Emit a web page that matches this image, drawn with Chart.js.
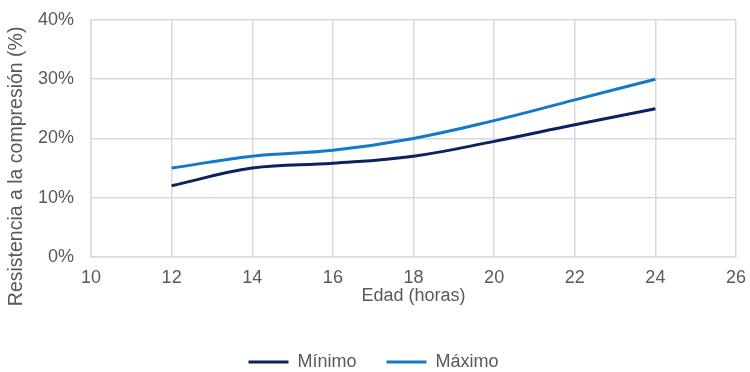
<!DOCTYPE html>
<html lang="es">
<head>
<meta charset="utf-8">
<title>Resistencia a la compresión según la edad</title>
<script src="https://cdn.jsdelivr.net/npm/chart.js@4/dist/chart.umd.min.js"></script>
<style>
  html, body { margin: 0; padding: 0; background: #ffffff; }
  #wrap { width: 750px; height: 372px; position: relative; }
</style>
</head>
<body>
<div id="wrap"><canvas id="chart"></canvas></div>
<script>
// Edad del hormigón (horas)
const edadHoras = [12, 14, 16, 18, 20, 22, 24];
// Resistencia a la compresión (%) - curva mínima y máxima
const minimo = [12, 15, 15.8, 17, 19.5, 22.3, 25];
const maximo = [15, 17, 18, 20, 23, 26.5, 30];
// Marcas de los ejes
const xTicks = [10, 12, 14, 16, 18, 20, 22, 24, 26];
const yTicks = [0, 10, 20, 30, 40];
const yTitle = 'Resistencia a la compresión (%)';

const textColor = '#595959';
const gridColor = '#d9d9d9';
const fontFamily = '"Liberation Sans", Arial, sans-serif';

const toPoints = (xs, ys) => xs.map((x, i) => ({ x: x, y: ys[i] }));

// Vertical axis title, drawn at the left edge and a little below the plot centre
const yTitlePlugin = {
  id: 'yTitle',
  afterDraw(chart) {
    const ctx = chart.ctx;
    const area = chart.chartArea;
    ctx.save();
    ctx.translate(17, (area.top + area.bottom) / 2 + 28);
    ctx.rotate(-Math.PI / 2);
    ctx.font = '19.5px ' + fontFamily;
    ctx.fillStyle = textColor;
    ctx.textAlign = 'center';
    ctx.textBaseline = 'middle';
    ctx.fillText(yTitle, 0, 0);
    ctx.restore();
  }
};

new Chart(document.getElementById('chart'), {
  type: 'line',
  data: {
    datasets: [
      {
        label: 'Mínimo',
        data: toPoints(edadHoras, minimo),
        borderColor: '#0b2160',
        backgroundColor: '#0b2160',
        borderWidth: 3,
        pointRadius: 0,
        tension: 0.4,
        fill: false
      },
      {
        label: 'Máximo',
        data: toPoints(edadHoras, maximo),
        borderColor: '#1479c9',
        backgroundColor: '#1479c9',
        borderWidth: 3,
        pointRadius: 0,
        tension: 0.4,
        fill: false
      }
    ]
  },
  plugins: [yTitlePlugin],
  options: {
    responsive: true,
    maintainAspectRatio: false,
    animation: false,
    layout: { padding: { left: 11, right: 14, top: 20, bottom: -9 } },
    plugins: {
      legend: {
        position: 'bottom',
        labels: {
          usePointStyle: true,
          pointStyle: 'line',
          pointStyleWidth: 40,
          color: textColor,
          padding: 30,
          font: { family: fontFamily, size: 18 }
        }
      },
      tooltip: { enabled: false }
    },
    scales: {
      x: {
        type: 'linear',
        min: xTicks[0],
        max: xTicks[xTicks.length - 1],
        afterBuildTicks: (axis) => { axis.ticks = xTicks.map(v => ({ value: v })); },
        afterFit: (axis) => {
          axis.paddingLeft = 0;
          axis.paddingRight = 0;
        },
        ticks: {
          color: textColor,
          padding: 10,
          maxRotation: 0,
          font: { family: fontFamily, size: 18 }
        },
        grid: { color: gridColor, lineWidth: 1.5, drawTicks: false },
        border: { color: gridColor, width: 1.5 },
        title: {
          display: true,
          text: 'Edad (horas)',
          color: textColor,
          padding: { top: -13, bottom: 16 },
          font: { family: fontFamily, size: 18 }
        }
      },
      y: {
        type: 'linear',
        min: yTicks[0],
        max: yTicks[yTicks.length - 1],
        afterBuildTicks: (axis) => { axis.ticks = yTicks.map(v => ({ value: v })); },
        afterFit: (axis) => {
          axis.width = 80;
          axis.paddingTop = 0;
        },
        ticks: {
          color: textColor,
          padding: 17,
          callback: (v) => v + '%',
          font: { family: fontFamily, size: 18 }
        },
        grid: { color: gridColor, lineWidth: 1.5, drawTicks: false },
        border: { color: gridColor, width: 1.5 },
        title: { display: false }
      }
    }
  }
});
</script>
</body>
</html>
